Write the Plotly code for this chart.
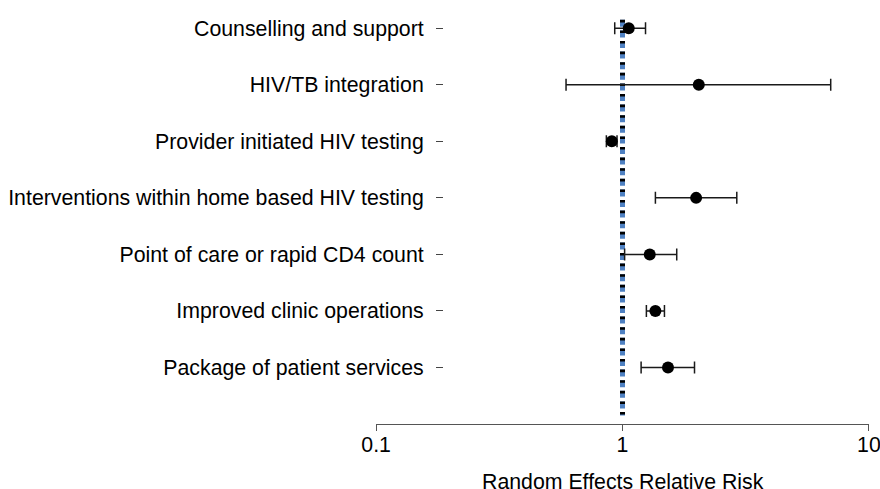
import plotly.graph_objects as go

categories = [
    "Counselling and support",
    "HIV/TB integration",
    "Provider initiated HIV testing",
    "Interventions within home based HIV testing",
    "Point of care or rapid CD4 count",
    "Improved clinic operations",
    "Package of patient services",
]
estimate = [1.06, 2.04, 0.905, 1.99, 1.29, 1.36, 1.53]
lower = [0.93, 0.59, 0.86, 1.36, 1.02, 1.25, 1.19]
upper = [1.24, 7.0, 0.95, 2.91, 1.66, 1.48, 1.96]
x_ticks = [0.1, 1, 10]
x_tick_labels = ["0.1", "1", "10"]
x_title = "Random Effects Relative Risk"
ref_value = 1

rows = list(range(1, len(categories) + 1))
plus = [u - e for u, e in zip(upper, estimate)]
minus = [e - l for e, l in zip(estimate, lower)]

FONT = "Liberation Sans, Arial, Helvetica, sans-serif"
FS = 21.3

fig = go.Figure()

# reference line: blue dashes with black tops
fig.add_trace(go.Scatter(
    x=[ref_value, ref_value], y=[0.85, 7.85], mode="lines",
    line=dict(color="#4f81c2", width=5, dash="7px,3.6px"),
    hoverinfo="skip", showlegend=False,
))
fig.add_trace(go.Scatter(
    x=[ref_value, ref_value], y=[0.85, 7.85], mode="lines",
    line=dict(color="#000000", width=5, dash="2.6px,8px"),
    hoverinfo="skip", showlegend=False,
))

fig.add_trace(go.Scatter(
    x=estimate, y=rows, mode="markers",
    marker=dict(color="black", size=12),
    error_x=dict(type="data", symmetric=False, array=plus, arrayminus=minus,
                 color="#1a1a1a", thickness=1.5, width=6),
    showlegend=False,
))

fig.update_layout(
    width=880, height=489,
    margin=dict(l=376, r=11, t=0, b=65, autoexpand=False),
    paper_bgcolor="white", plot_bgcolor="white",
    font=dict(family=FONT, size=FS, color="black"),
    xaxis=dict(
        type="log", range=[-1.0005, 1.0005], automargin=False,
        tickvals=x_ticks, ticktext=x_tick_labels,
        showgrid=False, zeroline=False,
        showline=True, linecolor="#555555", linewidth=1.3,
        ticks="outside", ticklen=6, tickcolor="#555555", tickwidth=1.3,
        ticklabeloverflow="allow", ticklabelstandoff=-5,
        tickfont=dict(size=FS, color="black"),
    ),
    yaxis=dict(
        range=[8, 0.5], automargin=False,
        tickvals=rows, ticktext=categories,
        showgrid=False, zeroline=False, showline=False,
        anchor="free", position=(443 - 376) / (869 - 376),
        ticks="outside", ticklen=7, tickcolor="#444444", tickwidth=1,
        ticklabelstandoff=8,
        tickfont=dict(size=FS, color="black"),
    ),
    annotations=[dict(
        text=x_title, xref="paper", yref="paper", x=0.5, y=0,
        xanchor="center", yanchor="middle", yshift=-58, showarrow=False,
        font=dict(size=FS, color="black"),
    )],
)

fig.write_html(
    "out.html",
    config={"displayModeBar": False},
    post_script="document.body.style.margin='0';document.body.style.overflow='hidden';",
)
